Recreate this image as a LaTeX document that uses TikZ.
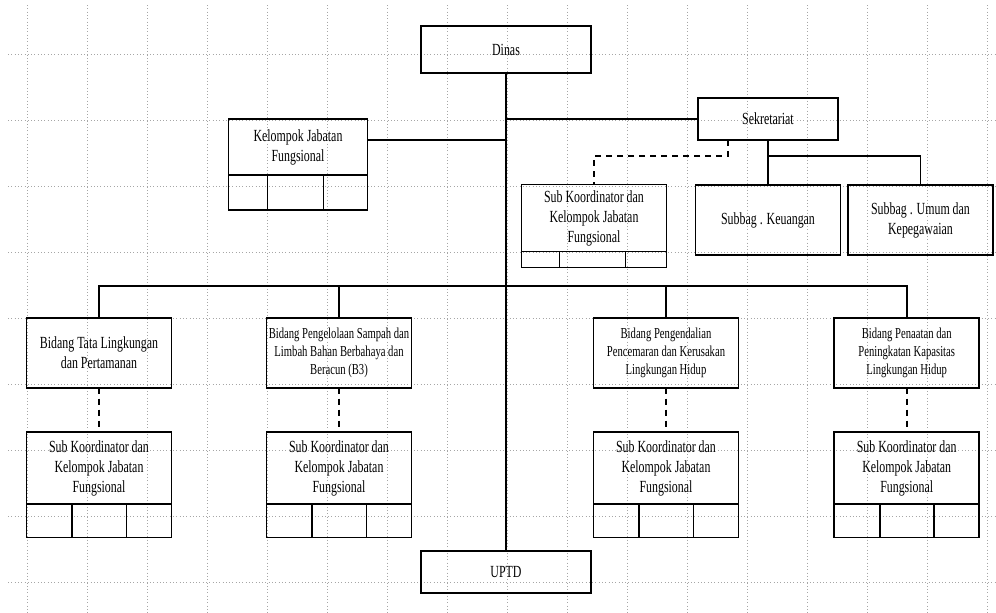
\documentclass[tikz,border=0pt]{standalone}
\usepackage{fontspec}
\setmainfont[FakeStretch=0.7]{Liberation Serif}

\tikzset{
  box/.style={draw, line width=1.8pt, outer sep=0pt, inner sep=1pt, align=center, font=\fontsize{17}{20}\selectfont},
  smalltext/.style={font=\fontsize{15.2}{18}\selectfont},
  conn/.style={line width=1.8pt},
  dashconn/.style={line width=1.8pt, dash pattern=on 6pt off 5pt},
  gridline/.style={gray!70, line width=0.9pt, dash pattern=on 0.9pt off 2.4pt}
}

\begin{document}
\begin{tikzpicture}[x=1pt,y=-1pt]
			\useasboundingbox (0,0) rectangle (996,613);
			% dotted grid behind everything
			\foreach \x in {27,87,...,987} \draw[gridline] (\x,5) -- (\x,613);
			\foreach \y in {54,120,...,582} \draw[gridline] (8,\y) -- (996,\y);
			
			\node[box, minimum width=170pt, minimum height=47pt] (dinas) at (506,49.5) {Dinas};
			\node[box, minimum width=170pt, minimum height=42pt] (uptd) at (506,572) {UPTD};
			\node[box, minimum width=140pt, minimum height=42pt] (sek) at (768,119) {Sekretariat};
			\node[box, minimum width=139pt, minimum height=56pt] (kjf) at (298,147) {Kelompok Jabatan\\Fungsional};
			\node[box, minimum width=145pt, minimum height=67pt] (sk0) at (594,218) {Sub Koordinator dan\\Kelompok Jabatan\\Fungsional};
			\node[box, minimum width=145pt, minimum height=70pt] (keu) at (768,220) {Subbag . Keuangan};
			\node[box, minimum width=145pt, minimum height=70pt] (umum) at (920.5,220) {Subbag . Umum dan\\Kepegawaian};
			
			\node[box, minimum width=145pt, minimum height=70pt] (b1) at (99,352.7) {Bidang Tata Lingkungan\\dan Pertamanan};
			\node[box, smalltext, minimum width=145pt, minimum height=70pt] (b2) at (339,352.7) {Bidang Pengelolaan Sampah dan\\Limbah Bahan Berbahaya dan\\Beracun (B3)};
			\node[box, smalltext, minimum width=145pt, minimum height=70pt] (b3) at (666,352.7) {Bidang Pengendalian\\Pencemaran dan Kerusakan\\Lingkungan Hidup};
			\node[box, smalltext, minimum width=145pt, minimum height=70pt] (b4) at (906.7,352.7) {Bidang Penaatan dan\\Peningkatan Kapasitas\\Lingkungan Hidup};
			
			\node[box, minimum width=145pt, minimum height=72pt] (sk1) at (99,468) {Sub Koordinator dan\\Kelompok Jabatan\\Fungsional};
			\node[box, minimum width=145pt, minimum height=72pt] (sk2) at (339,468) {Sub Koordinator dan\\Kelompok Jabatan\\Fungsional};
			\node[box, minimum width=145pt, minimum height=72pt] (sk3) at (666,468) {Sub Koordinator dan\\Kelompok Jabatan\\Fungsional};
			\node[box, minimum width=145pt, minimum height=72pt] (sk4) at (906.7,468) {Sub Koordinator dan\\Kelompok Jabatan\\Fungsional};
			
			% cell rows under the jabatan boxes
			\draw[conn] (kjf.south west) rectangle ++(139,35);
			\draw[conn] ([xshift=39pt]kjf.south west) -- ++(0,35) ([xshift=95pt]kjf.south west) -- ++(0,35);
			\draw[conn] (sk0.south west) rectangle ++(145,16);
			\draw[conn] ([xshift=38pt]sk0.south west) -- ++(0,16) ([xshift=104pt]sk0.south west) -- ++(0,16);
			\draw[conn] (sk1.south west) rectangle ++(145,33.5);
			\draw[conn] ([xshift=45.5pt]sk1.south west) -- ++(0,33.5) ([xshift=100pt]sk1.south west) -- ++(0,33.5);
			\draw[conn] (sk2.south west) rectangle ++(145,33.5);
			\draw[conn] ([xshift=45.5pt]sk2.south west) -- ++(0,33.5) ([xshift=100pt]sk2.south west) -- ++(0,33.5);
			\draw[conn] (sk3.south west) rectangle ++(145,33.5);
			\draw[conn] ([xshift=45.5pt]sk3.south west) -- ++(0,33.5) ([xshift=100pt]sk3.south west) -- ++(0,33.5);
			\draw[conn] (sk4.south west) rectangle ++(145,33.5);
			\draw[conn] ([xshift=45.5pt]sk4.south west) -- ++(0,33.5) ([xshift=100pt]sk4.south west) -- ++(0,33.5);
			
			\coordinate (bus) at (506,286);
			
			\draw[conn] (dinas) -- (uptd);
			\draw[conn] ([yshift=7pt]kjf.east) -| (dinas.south);
			\draw[conn] (sek.west) -| (dinas.south);
			\draw[conn] (sek.south) -- (keu.north);
			\draw[conn] (sek.south) ++(0,16) -| (umum.north);
			\draw[dashconn] ([xshift=-40pt]sek.south) -- ++(0,16) -| (sk0.north);
			\draw[conn] (b1.north) |- (bus) -| (b4.north);
			\draw[conn] (b2.north) -- (b2.north |- bus);
			\draw[conn] (b3.north) -- (b3.north |- bus);
			\draw[dashconn] (b1) -- (sk1);
			\draw[dashconn] (b2) -- (sk2);
			\draw[dashconn] (b3) -- (sk3);
			\draw[dashconn] (b4) -- (sk4);
		\end{tikzpicture}
\end{document}
